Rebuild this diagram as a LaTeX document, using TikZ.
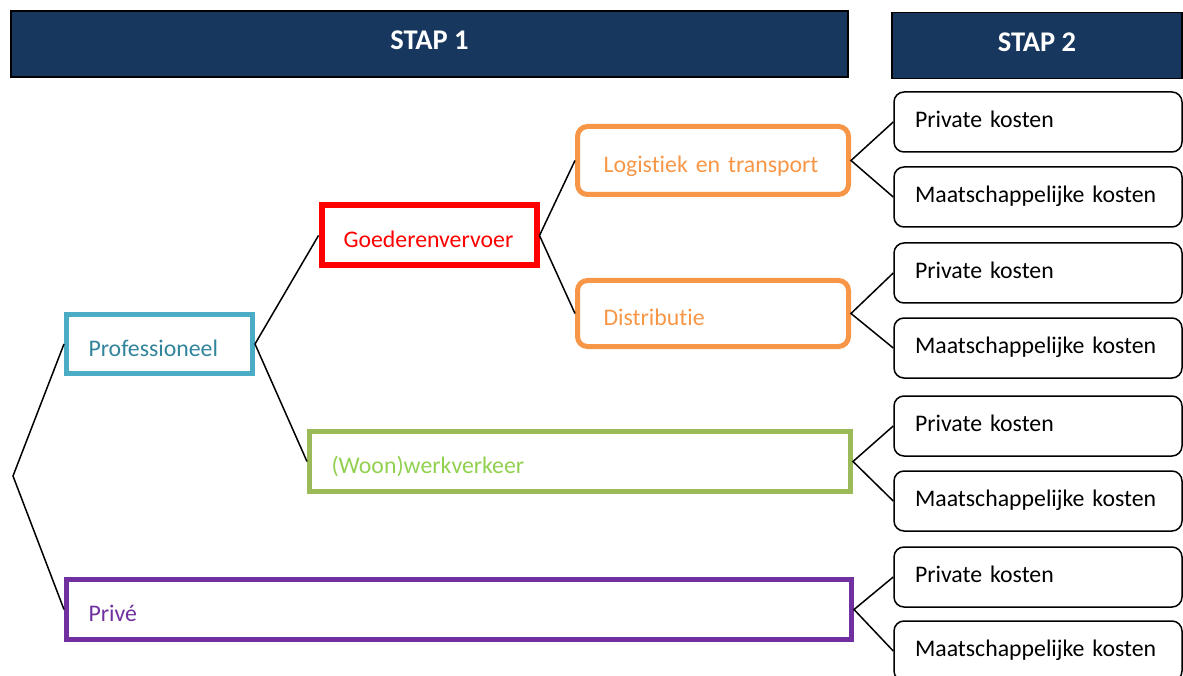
\documentclass[tikz,border=0pt]{standalone}
\usepackage{fontspec}
\setmainfont{Carlito}[Ligatures=NoCommon]
\usetikzlibrary{positioning}
\definecolor{navy}{HTML}{17375E}
\definecolor{profblue}{HTML}{4BACC6}
\definecolor{profteal}{HTML}{31849B}
\definecolor{logorange}{HTML}{F79646}
\definecolor{woongreen}{HTML}{9BBB59}
\definecolor{woontext}{HTML}{92D050}
\definecolor{privpurple}{HTML}{7030A0}
\tikzset{
  font=\fontsize{23.8}{28}\selectfont,
  % Header bar
  hbox/.style={draw=black, line width=1.5pt, fill=navy, text=white,
    font=\fontsize{28.5}{33}\selectfont\bfseries, inner sep=0pt,
    text height=17pt, text depth=5pt},
  % Category box
  cbox/.style={draw, line width=5pt, inner xsep=22pt, inner ysep=0pt,
    align=left, text height=30.5pt, text depth=5.9pt},
  % Rounded category box
  rbox/.style={cbox, rounded corners=10pt, inner xsep=26pt,
    draw=logorange, text=logorange},
  % Cost box
  kbox/.style={draw, line width=1.5pt, rounded corners=10pt,
    minimum width=288pt, minimum height=60pt, text width=246pt,
    inner xsep=21pt, inner ysep=0pt, align=left, text height=17.6pt,
    text depth=5.9pt},
  % Branch lines
  branch/.style={line width=1.5pt},
}
\begin{document}
\begin{tikzpicture}[x=1pt, y=-1pt]
  \useasboundingbox (0,0) rectangle (1183,676);

  % Headers
  \node[hbox, minimum width=837pt, minimum height=66pt] (stap1) at (429.5,44) {STAP 1};
  \node[hbox, minimum width=290pt, minimum height=66pt] (stap2) at (1037,45.5) {STAP 2};

  % Stap 1
  \node[cbox, draw=profblue, text=profteal, text width=142pt,
    minimum height=59pt] (prof) at (159.5,344) {Professioneel};
  \node[cbox, draw=red, text=red, line width=6pt, text width=171pt,
    minimum height=60pt] (goods) at (429,235.5) {Goederenvervoer};
  \node[rbox, text width=219pt, minimum height=68pt] (log) at (713,160.5) {Logistiek en transport};
  \node[rbox, text width=219pt, minimum height=66pt] (dist) at (713,313.5) {Distributie};
  \node[cbox, draw=woongreen, text=woontext, text width=497pt,
    minimum height=60pt] (woon) at (580,461.5) {(Woon)werkverkeer};
  \node[cbox, draw=privpurple, text=privpurple, text width=741pt,
    minimum height=60pt] (prive) at (459,609.5) {Privé};

  % Stap 2
  \node[kbox] (lp) at (1038,122) {Private kosten};
  \node[kbox] (lm) at (1038,197) {Maatschappelijke kosten};
  \node[kbox] (dp) at (1038,273) {Private kosten};
  \node[kbox] (dm) at (1038,348) {Maatschappelijke kosten};
  \node[kbox] (wp) at (1038,426) {Private kosten};
  \node[kbox] (wm) at (1038,501) {Maatschappelijke kosten};
  \node[kbox] (pp) at (1038,577) {Private kosten};
  \node[kbox] (pm) at (1038,651) {Maatschappelijke kosten};

  % Branches
  \coordinate (root) at (13,476);
  \draw[branch] (prof.west) -- (root) -- (prive.west);
  \draw[branch] (goods.west) -- (prof.east) -- (woon.west);
  \draw[branch] (log.west) -- (goods.east) -- (dist.west);
  \draw[branch] (lp.west) -- (log.east) -- (lm.west);
  \draw[branch] (dp.west) -- (dist.east) -- (dm.west);
  \draw[branch] (wp.west) -- (woon.east) -- (wm.west);
  \draw[branch] (pp.west) -- (prive.east) -- (pm.west);
\end{tikzpicture}
\end{document}
